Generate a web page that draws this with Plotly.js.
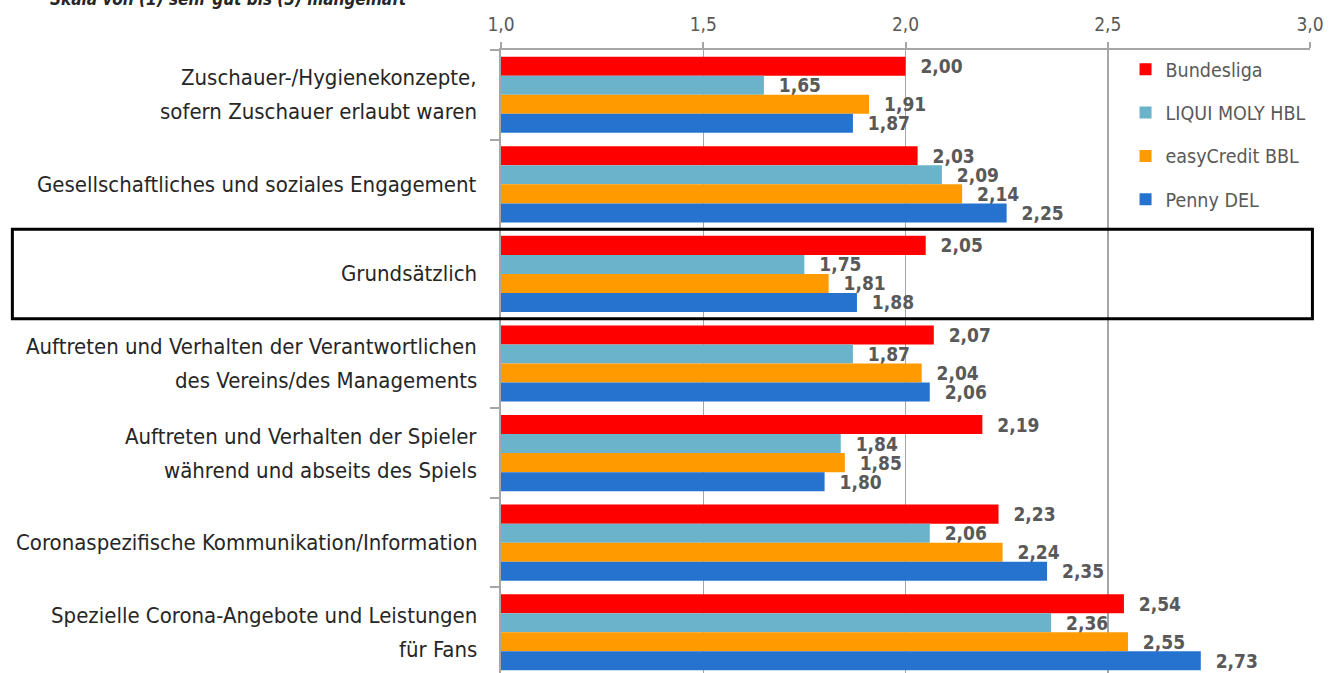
<!DOCTYPE html>
<html>
<head>
<meta charset="utf-8">
<script src="https://cdn.plot.ly/plotly-3.0.1.min.js"></script>
<style>html,body{margin:0;padding:0;background:#fff;}#chart{width:1333px;height:673px;}</style>
</head>
<body>
<div id="chart"></div>
<script>
const categories = [
  "Zuschauer-/Hygienekonzepte,<br>sofern Zuschauer erlaubt waren",
  "Gesellschaftliches und soziales Engagement",
  "Grundsätzlich",
  "Auftreten und Verhalten der Verantwortlichen<br>des Vereins/des Managements",
  "Auftreten und Verhalten der Spieler<br>während und abseits des Spiels",
  "Coronaspezifische Kommunikation/Information",
  "Spezielle Corona-Angebote und Leistungen<br>für Fans"
];
const seriesNames = ["Bundesliga", "LIQUI MOLY HBL", "easyCredit BBL", "Penny DEL"];
const bundesliga = [2.00, 2.03, 2.05, 2.07, 2.19, 2.23, 2.54];
const liquiMolyHBL = [1.65, 2.09, 1.75, 1.87, 1.84, 2.06, 2.36];
const easyCreditBBL = [1.91, 2.14, 1.81, 2.04, 1.85, 2.24, 2.55];
const pennyDEL = [1.87, 2.25, 1.88, 2.06, 1.80, 2.35, 2.73];
const xTickValues = [1.0, 1.5, 2.0, 2.5, 3.0];
const subtitle = "Skala von (1) sehr gut bis (5) mangelhaft";
const highlightedCategory = "Grundsätzlich";

const colors = ["#FF0000", "#6AB3CA", "#FF9A00", "#2673CF"];
const seriesValues = [bundesliga, liquiMolyHBL, easyCreditBBL, pennyDEL];
const FONT = "'Liberation Sans Narrow', 'DejaVu Sans Condensed', 'Arial Narrow', sans-serif";

const traces = seriesValues.map((vals, i) => ({
  type: "bar",
  orientation: "h",
  name: seriesNames[i],
  legendgroup: "g" + i,
  x: vals,
  y: categories,
  marker: {color: colors[i], line: {width: 0}},
  texttemplate: "\u00a0\u00a0%{x:.2f}",
  textposition: "outside",
  constraintext: "none",
  cliponaxis: false,
  textfont: {family: FONT, size: 19, color: "#595959", weight: "bold"},
  hoverinfo: "x+name"
}));

const hiIdx = categories.indexOf(highlightedCategory);

// category labels as annotations (to get the wider line spacing of the original)
const LINE_GAP = 34;
const catAnnotations = [];
categories.forEach((cat, ci) => {
  const lines = cat.split("<br>");
  lines.forEach((ln, li) => {
    catAnnotations.push({
      text: ln,
      xref: "paper", yref: "y",
      x: -0.027, y: ci,
      xanchor: "right", yanchor: "middle",
      yshift: -((li - (lines.length - 1) / 2) * LINE_GAP),
      showarrow: false,
      font: {family: FONT, size: 22, color: "#262626"}
    });
  });
});

const layout = {
  width: 1333,
  height: 673,
  margin: {l: 501, r: 23, t: 50, b: 0},
  paper_bgcolor: "#ffffff",
  plot_bgcolor: "#ffffff",
  separators: ",.",
  barmode: "group",
  bargap: 0.15,
  bargroupgap: 0,
  font: {family: FONT, color: "#595959"},
  showlegend: true,
  legend: {
    x: 0.772, y: 1.0, xanchor: "left", yanchor: "top",
    traceorder: "grouped",
    tracegroupgap: 15,
    font: {family: FONT, size: 19.5, color: "#595959"},
    bgcolor: "rgba(0,0,0,0)"
  },
  xaxis: {
    side: "top",
    range: [1, 3],
    tickvals: xTickValues,
    tickformat: ".1f",
    showgrid: true,
    gridcolor: "#A6A6A6",
    gridwidth: 1.5,
    zeroline: false,
    showline: true,
    linecolor: "#A6A6A6",
    linewidth: 2.5,
    ticks: "outside",
    ticklen: 6,
    tickwidth: 2,
    tickcolor: "#A6A6A6",
    ticklabelstandoff: 3,
    tickfont: {family: FONT, size: 19, color: "#595959"},
    fixedrange: true
  },
  yaxis: {
    type: "category",
    range: [6.455, -0.5],
    tickson: "boundaries",
    ticks: "outside",
    ticklen: 9,
    tickwidth: 2,
    tickcolor: "#A6A6A6",
    showline: true,
    linecolor: "#A6A6A6",
    linewidth: 2.5,
    showgrid: false,
    zeroline: false,
    showticklabels: false,
    automargin: false,
    fixedrange: true
  },
  shapes: [{
    type: "rect",
    xref: "paper", yref: "y",
    x0: -0.604, x1: 1.003,
    y0: hiIdx - 0.5, y1: hiIdx + 0.5,
    line: {color: "#000000", width: 3},
    fillcolor: "rgba(0,0,0,0)",
    layer: "above"
  }],
  annotations: catAnnotations.concat([{
    text: "<b><i>" + subtitle + "</i></b>",
    xref: "paper", yref: "paper",
    x: -0.56, y: 1.063,
    xanchor: "left", yanchor: "bottom",
    showarrow: false,
    font: {family: FONT, size: 17, color: "#262626"}
  }])
};

Plotly.newPlot("chart", traces, layout, {displayModeBar: false, staticPlot: true});
</script>
</body>
</html>
